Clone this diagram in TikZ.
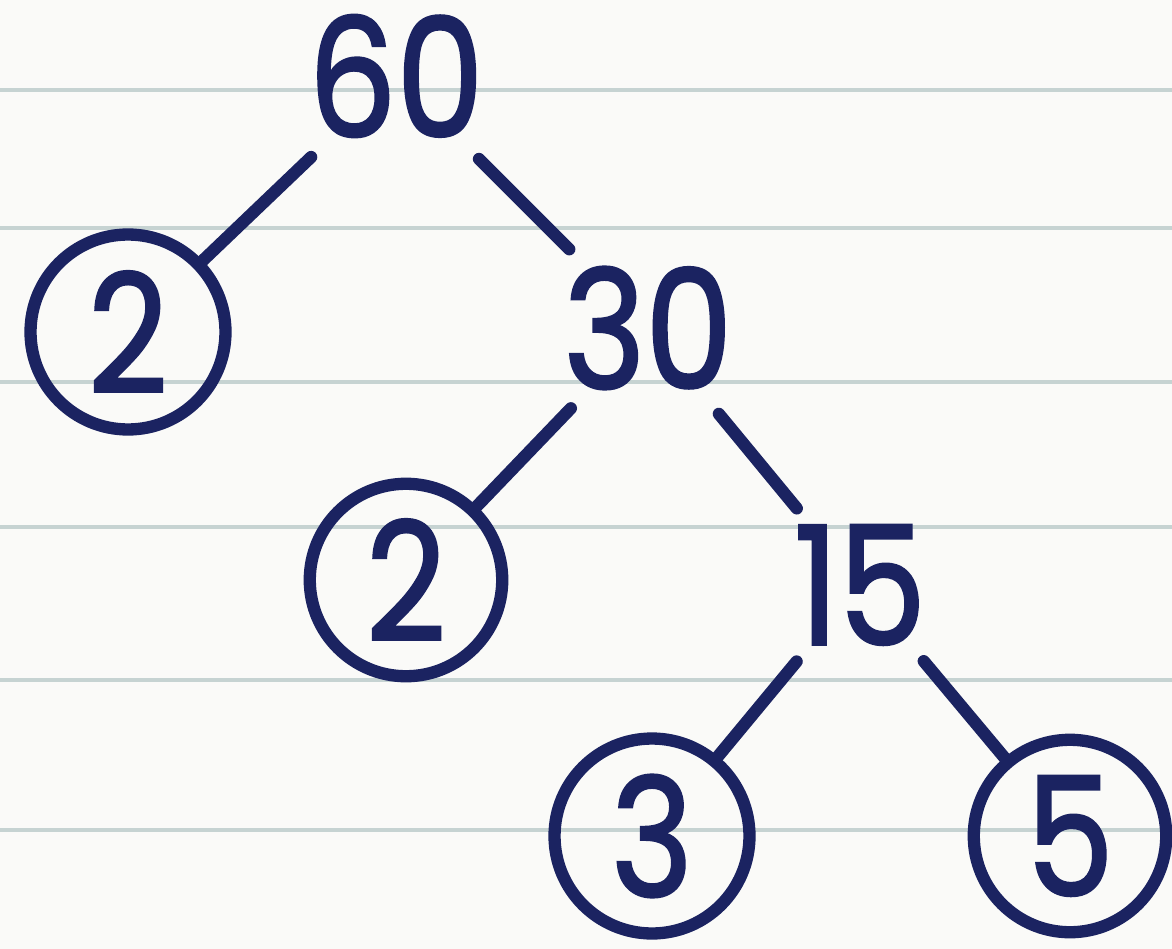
\documentclass[tikz,border=0pt]{standalone}
\usepackage{fontspec}
\usepackage{tikz}
\newfontfamily\handfont[FakeStretch=0.84,FakeBold=1.6]{Poppins}
\definecolor{ink}{HTML}{1B2361}
\definecolor{ruling}{HTML}{C6D3D2}
\definecolor{paper}{HTML}{FAFAF8}

\tikzset{
    num/.style={circle,inner sep=0pt,text=ink,font=\handfont\fontsize{94}{104}\selectfont},
    prime/.style={num,draw=ink,line width=7pt},
    branch/.style={draw=ink,line width=7pt,line cap=round}
}

\begin{document}
\begin{tikzpicture}[x=0.02cm,y=-0.02cm]
\fill[paper] (0,0) rectangle (1172,949);
\useasboundingbox (0,0) rectangle (1172,949);

% ruled paper
\foreach \y in {90,228,382,527,680,830}
    \draw[ruling,line width=2pt] (0,\y) -- (1172,\y);

\node[num,minimum size=4.68cm] (sixty) at (396,76) {60};
\node[prime,minimum size=3.9cm] (twoA) at (128,332) {2};
\node[num,minimum size=4.44cm] (thirty) at (648,328) {30};
\node[prime,minimum size=3.85cm] (twoB) at (406,580) {2};
\node[num,minimum size=3.96cm] (fifteen) at (860,585) {15};
\node[prime,minimum size=3.9cm] (three) at (652,836) {3};
\node[prime,minimum size=3.85cm] (five) at (1070,836) {5};

\draw[branch] (sixty) -- (twoA);
\draw[branch] (sixty) -- (thirty);
\draw[branch] (thirty) -- (twoB);
\draw[branch] (thirty) -- (fifteen);
\draw[branch] (fifteen) -- (three);
\draw[branch] (fifteen) -- (five);

\end{tikzpicture}
\end{document}
